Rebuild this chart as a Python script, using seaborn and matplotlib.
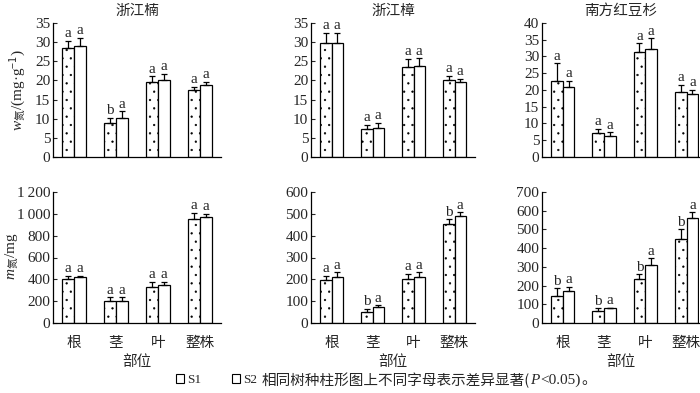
import matplotlib
matplotlib.use("Agg")
import matplotlib.pyplot as plt
import seaborn as sns
import pandas as pd
from matplotlib.patches import Patch
from matplotlib.ticker import FuncFormatter

sns.set_theme(style="ticks")
plt.rcParams['font.family'] = ['Liberation Serif', 'Noto Sans CJK SC']
plt.rcParams['mathtext.fontset'] = 'custom'
plt.rcParams['mathtext.rm'] = 'Noto Sans CJK SC'
plt.rcParams['mathtext.it'] = 'Liberation Serif:italic'
plt.rcParams['hatch.linewidth'] = 0.4

parts = ["根", "茎", "叶", "整株"]
treatments = ["S1", "S2"]
species = ["浙江楠", "浙江樟", "南方红豆杉"]

# w (mg/g) values, S1 and S2, per species
w_s1 = {"浙江楠": [28.5, 8.9, 19.6, 17.4],
        "浙江樟": [29.9, 7.3, 23.5, 20.0],
        "南方红豆杉": [22.7, 7.1, 31.2, 19.5]}
w_s2 = {"浙江楠": [29.0, 10.2, 20.0, 18.7],
        "浙江樟": [29.9, 7.7, 23.7, 19.7],
        "南方红豆杉": [20.8, 6.2, 32.2, 18.9]}
w_e1 = {"浙江楠": [1.8, 1.3, 1.5, 0.9],
        "浙江樟": [2.5, 1.1, 2.1, 1.2],
        "南方红豆杉": [5.3, 1.3, 2.8, 2.0]}
w_e2 = {"浙江楠": [2.2, 1.7, 1.8, 0.9],
        "浙江樟": [2.5, 1.2, 2.1, 0.8],
        "南方红豆杉": [2.0, 1.2, 3.2, 1.1]}
w_l1 = {"浙江楠": ["a", "b", "a", "a"], "浙江樟": ["a", "a", "a", "a"], "南方红豆杉": ["a", "a", "a", "a"]}
w_l2 = {"浙江楠": ["a", "a", "a", "a"], "浙江樟": ["a", "a", "a", "a"], "南方红豆杉": ["a", "a", "a", "a"]}

# m (mg) values
m_s1 = {"浙江楠": [404, 198, 334, 954],
        "浙江樟": [195, 50, 202, 455],
        "南方红豆杉": [146, 63, 234, 448]}
m_s2 = {"浙江楠": [419, 198, 350, 970],
        "浙江樟": [209, 73, 209, 490],
        "南方红豆杉": [172, 79, 311, 559]}
m_e1 = {"浙江楠": [30, 36, 45, 58],
        "浙江樟": [22, 16, 24, 21],
        "南方红豆杉": [39, 16, 26, 53]}
m_e2 = {"浙江楠": [14, 36, 28, 33],
        "浙江樟": [23, 8, 23, 18],
        "南方红豆杉": [23, 3, 35, 34]}
m_l1 = {"浙江楠": ["a", "a", "a", "a"], "浙江樟": ["a", "b", "a", "b"], "南方红豆杉": ["b", "b", "b", "b"]}
m_l2 = {"浙江楠": ["a", "a", "a", "a"], "浙江樟": ["a", "a", "a", "a"], "南方红豆杉": ["a", "a", "a", "a"]}

w_ylim = {"浙江楠": (35, 5), "浙江樟": (35, 5), "南方红豆杉": (40, 5)}
m_ylim = {"浙江楠": (1200, 200), "浙江樟": (600, 100), "南方红豆杉": (700, 100)}

W, H = 700, 393
fig = plt.figure(figsize=(7, 3.93), dpi=100)

lefts = [53, 311, 542]
rights = [221, 475, 699]
xr = [3.5, 3.5, 3.3]
CJK = ['Noto Sans CJK SC']


def fmt(v, pos):
    v = int(round(v))
    if v >= 1000:
        return f"{v // 1000}\u2009{v % 1000:03d}"
    return str(v)


def draw(ax, sp, s1, s2, e1, e2, l1, l2, ylim):
    df = pd.DataFrame({
        "part": parts * 2,
        "trt": ["S1"] * 4 + ["S2"] * 4,
        "val": s1[sp] + s2[sp],
    })
    sns.barplot(data=df, x="part", y="val", hue="trt", order=parts, hue_order=treatments,
                palette=["white", "white"], edgecolor="black", linewidth=0.9,
                width=0.57, gap=0, errorbar=None, legend=False, ax=ax)
    bars = [p for p in ax.patches]
    errs = e1[sp] + e2[sp]
    labs = l1[sp] + l2[sp]
    top, step = ylim
    for i, b in enumerate(bars[:8]):
        if i < 4:
            b.set_hatch('..')
        xc = b.get_x() + b.get_width() / 2
        h = b.get_height()
        ax.errorbar([xc], [h], yerr=[[0], [errs[i]]], fmt='none', ecolor='black',
                    elinewidth=0.9, capsize=2, capthick=0.9)
        ax.text(xc, h + errs[i] + top * 0.004, labs[i], ha='center', va='bottom',
                fontsize=11, family='Liberation Serif')
    ax.set_ylim(0, top)
    ax.set_yticks(range(0, top + 1, step))
    ax.yaxis.set_major_formatter(FuncFormatter(fmt))
    ax.set_xlabel("")
    ax.set_ylabel("")
    sns.despine(ax=ax)
    ax.tick_params(axis='y', direction='in', length=3, width=0.8, labelsize=11, pad=2)
    ax.tick_params(axis='x', length=0, pad=9)
    for s in ['left', 'bottom']:
        ax.spines[s].set_linewidth(0.9)
        ax.spines[s].set_color('black')


for j, sp in enumerate(species):
    x0 = lefts[j] / W
    wd = (rights[j] - lefts[j]) / W
    # top row
    ax = fig.add_axes([x0, (H - 157) / H, wd, 134 / H])
    draw(ax, sp, w_s1, w_s2, w_e1, w_e2, w_l1, w_l2, w_ylim[sp])
    ax.set_xlim(-0.5, xr[j])
    ax.set_xticks(range(4))
    ax.set_xticklabels([])
    ax.set_title(sp, fontsize=10.5, pad=6, family=CJK)
    # bottom row
    ax2 = fig.add_axes([x0, (H - 323) / H, wd, 131 / H])
    draw(ax2, sp, m_s1, m_s2, m_e1, m_e2, m_l1, m_l2, m_ylim[sp])
    ax2.set_xlim(-0.5, xr[j])
    ax2.set_xticks(range(4))
    ax2.set_xticklabels(parts, family=CJK, fontsize=10.5)
    ax2.set_xlabel("部位", fontsize=10.5, family=CJK, labelpad=4)

fig.text(17 / W, 1 - 90 / H, r"$w_{\mathrm{氮}}$/(mg·g$^{-1}$)", fontsize=11,
         rotation=90, ha='center', va='center')
fig.text(12 / W, 1 - 256 / H, r"$m_{\mathrm{氮}}$/mg", fontsize=11,
         rotation=90, ha='center', va='center')

handles = [Patch(facecolor='white', edgecolor='black', hatch='.', linewidth=0.8),
           Patch(facecolor='white', edgecolor='black', linewidth=0.8)]
fig.legend(handles, treatments, loc='center left', bbox_to_anchor=(176 / W, 1 - 380 / H),
           ncol=2, frameon=False, fontsize=9.5, handlelength=0.6, handleheight=0.6,
           handletextpad=0.25, columnspacing=2.3, borderpad=0, borderaxespad=0)

ynote = 1 - 380 / H
renderer = fig.canvas.get_renderer()
t1 = fig.text(262 / W, ynote, "相同树种柱形图上不同字母表示差异显著(", fontsize=10.5,
              va='center', ha='left', family=CJK)
x = t1.get_window_extent(renderer).x1 / W
t2 = fig.text(x, ynote, "P", fontsize=11, va='center', ha='left',
              family='Liberation Serif', style='italic')
x = t2.get_window_extent(renderer).x1 / W + 1 / W
t3 = fig.text(x, ynote, "<0.05)", fontsize=11, va='center', ha='left', family='Liberation Serif')
x = t3.get_window_extent(renderer).x1 / W
t4 = fig.text(x, ynote, "。", fontsize=10.5, va='center', ha='left', family=CJK)

fig.savefig("out.png", dpi=100)
